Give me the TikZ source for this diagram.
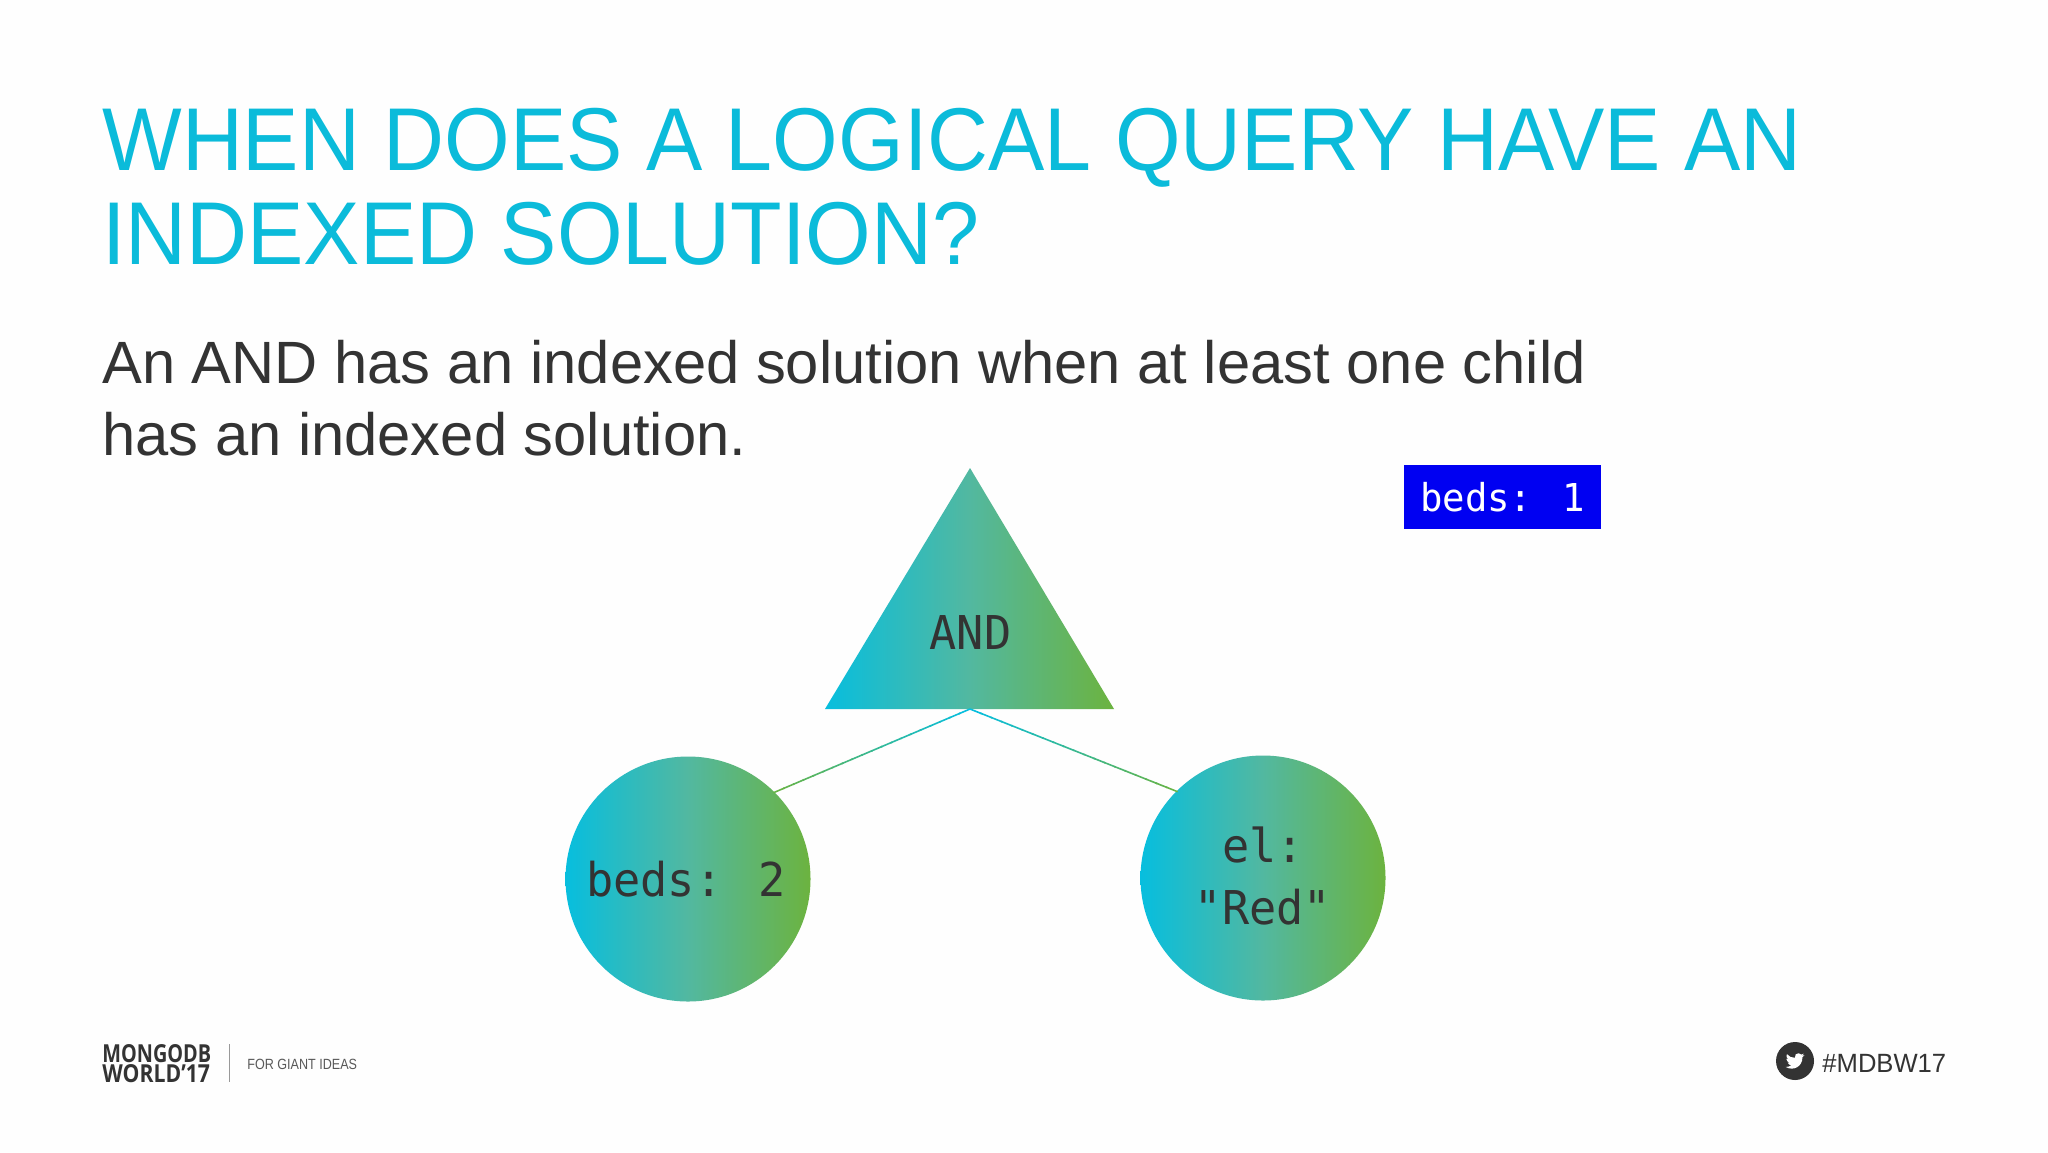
\documentclass[tikz,border=0pt]{standalone}
\usepackage{fontspec}
\setmainfont{Liberation Sans}
\newfontfamily\monof[FakeStretch=0.97]{DejaVu Sans Mono}
\newfontfamily\logoa[FakeStretch=0.80]{Open Sans}
\newfontfamily\logob[FakeStretch=0.855]{Open Sans}
\newfontfamily\titlef[FakeStretch=0.946]{Liberation Sans}
\newfontfamily\tagf[FakeStretch=0.85]{Liberation Sans}
\newfontfamily\hashf[FakeStretch=0.97]{Liberation Sans}
\usetikzlibrary{calc}
\definecolor{titlec}{HTML}{0BBBDA}
\definecolor{gradc}{HTML}{07BEDE}
\definecolor{gradm}{HTML}{52B8A0}
\definecolor{gradg}{HTML}{6CB33F}
\definecolor{bodyc}{HTML}{333333}
\definecolor{boxb}{HTML}{0000F2}
\tikzset{
  x=0.5pt,y=-0.5pt,
  titletext/.style={anchor=base west,inner sep=0,text=titlec,font=\titlef\fontsize{44.6}{50}\selectfont},
  bodytext/.style={anchor=base west,inner sep=0,text=bodyc,font=\fontsize{29.85}{35}\selectfont},
  grad/.style={left color=gradc,right color=gradg,middle color=gradm,shading angle=90,draw=none},
  treenode/.style={circle,minimum size=122.5pt,inner sep=0,grad},
  monotext/.style={inner sep=0,text=bodyc,align=center,font=\monof\fontsize{23.3}{30.7}\selectfont},
}
\newcommand{\gradline}[2]{%
  \foreach \i in {0,...,19}{%
    \pgfmathsetmacro{\pa}{\i/20}\pgfmathsetmacro{\pb}{(\i+1.15)/20}\pgfmathsetmacro{\mx}{100-5*\i}%
    \draw[line width=0.8pt,color=gradc!\mx!gradg] ($(#1)!\pa!(#2)$) -- ($(#1)!\pb!(#2)$);
  }%
}
\begin{document}
\begin{tikzpicture}
\useasboundingbox (0,0) rectangle (2048,1152);
\fill[white!99.5!black] (0,0) rectangle (2048,1152);
% title
\node[titletext] (t1) at (102,170.5) {WHEN DOES A LOGICAL QUERY HAVE AN};
\node[titletext] (t2) at (102,264) {INDEXED SOLUTION?};
% body
\node[bodytext] (b1) at (102,383) {An AND has an indexed solution when at least one child};
\node[bodytext] (b2) at (102,455) {has an indexed solution.};
% triangle
\coordinate (apex) at (970,468);
\coordinate (tl) at (825,709);
\coordinate (tr) at (1114,709);
\coordinate (tb) at (970,709);
\shade[grad] (apex) -- (tl) -- (tr) -- cycle;
\node[monotext] (andt) at (970.5,632) {AND};
% circles
\node[treenode] (c1) at (688,879) {};
\node[treenode] (c2) at (1263,878) {};
\node[monotext] (c1t) at (686,879) {beds: 2};
\node[monotext] (c2t) at (1263,876) {el:\\"Red"};
% connectors
\gradline{tb}{c1.45}
\gradline{tb}{c2.135}
% blue box
\node[fill=boxb,text=white,minimum width=98.5pt,minimum height=32pt,inner sep=0,font=\monof\fontsize{19.2}{23}\selectfont] (bb) at (1502.5,497) {beds: 1};
% footer
\node[anchor=base west,inner sep=0,text=bodyc,text height=8.9pt,text depth=0pt,font=\logoa\bfseries\fontsize{12.4}{14}\selectfont] (l1) at (102,1062) {MONGODB};
\node[anchor=base west,inner sep=0,text=bodyc,text height=8.9pt,text depth=0pt,font=\logob\bfseries\fontsize{12.4}{14}\selectfont] (l2) at (102,1082) {WORLD’17};
\coordinate (da) at (229,1044);
\coordinate (db) at (229,1082);
\draw[line width=0.5pt,color=black!40] (da) -- (db);
\node[anchor=base west,inner sep=0,text=black!65,font=\tagf\fontsize{7.4}{9}\selectfont] (g) at (247,1069) {FOR GIANT IDEAS};
\node[circle,fill=bodyc,minimum size=19pt,inner sep=0] (tw) at (1795,1061) {};
\begin{scope}[shift={(1785.6,1051.6)},x=0.39pt,y=-0.39pt]
\fill[white] (24,4.6) -- (21.1,5.3) -- (23.3,2.6) -- (20.2,3.8) .. controls (18.5,1.8) and (15,1.4) .. (13,3.4) .. controls (11.9,4.6) and (11.6,6.3) .. (11.9,8) .. controls (7.7,8.1) and (4.1,6.1) .. (1.6,3.2) .. controls (.4,5.4) and (1,8.2) .. (3.2,9.7) -- (.9,9.1) .. controls (1,11.4) and (2.6,13.4) .. (4.9,14) -- (2.7,14.1) .. controls (3.4,16) and (5.2,17.4) .. (7.3,17.5) .. controls (5.4,19.1) and (2.6,19.9) .. (0,19.6) .. controls (10,25.5) and (21.5,19) .. (21.5,7.8) -- (21.5,7.2) -- cycle;
\end{scope}
\node[anchor=base west,inner sep=0,text=bodyc,font=\hashf\fontsize{13.2}{16}\selectfont] (h) at (1822,1072) {\#MDBW17};
\end{tikzpicture}
\end{document}
